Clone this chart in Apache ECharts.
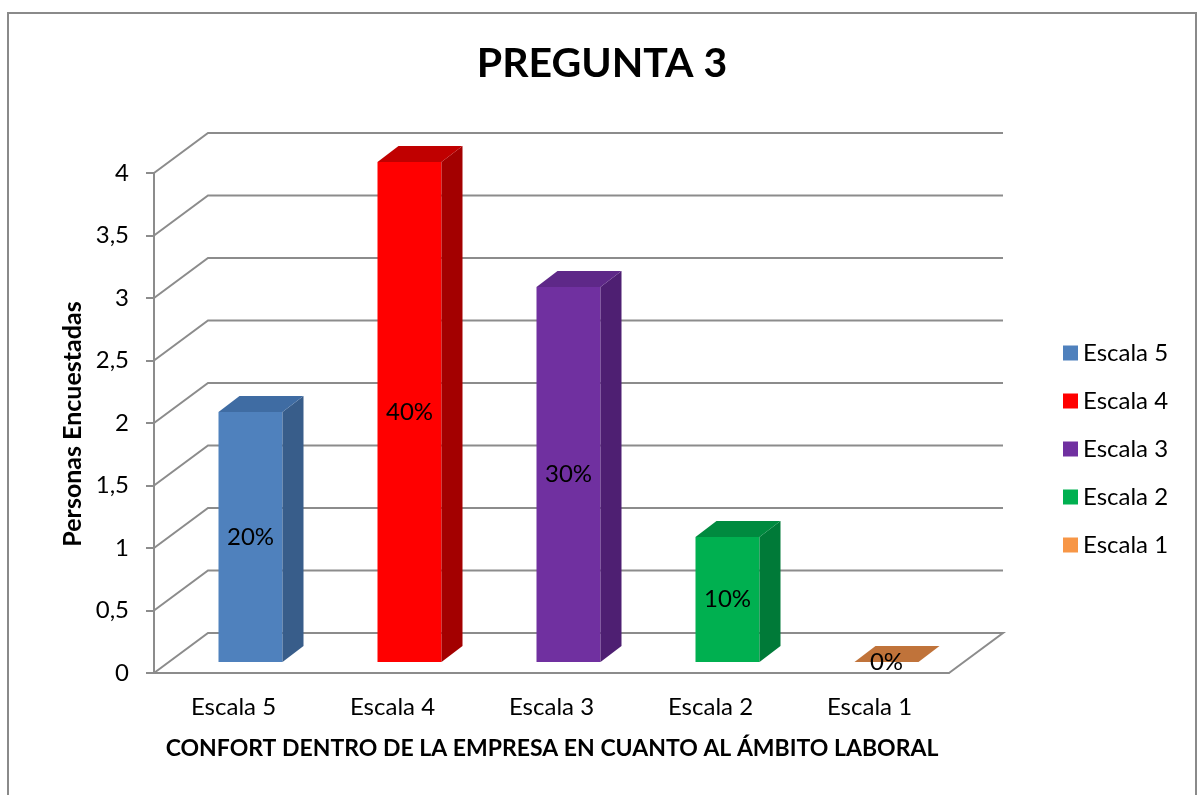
<!DOCTYPE html>
<html>
<head>
<meta charset="utf-8">
<script src="https://cdn.jsdelivr.net/npm/echarts@6/dist/echarts.min.js"></script>
<style>
html,body{margin:0;padding:0;background:#fff;}
#chart{width:1197px;height:795px;}
</style>
</head>
<body>
<div id="chart"></div>
<script>
const categories = ['Escala 5', 'Escala 4', 'Escala 3', 'Escala 2', 'Escala 1'];
const values = [2, 4, 3, 1, 0];
const percentLabels = ['20%', '40%', '30%', '10%', '0%'];
const yTicks = [0, 0.5, 1, 1.5, 2, 2.5, 3, 3.5, 4];
const legendColors = ['#4F81BD', '#FF0000', '#7030A0', '#00B050', '#F79646'];
const frontColors = ['#4F81BD', '#FF0000', '#7030A0', '#00B050', '#F79646'];
const sideColors = ['#385D8A', '#A30000', '#4E1F72', '#007A38', '#B0692F'];
const topColors = ['#3F6CA3', '#C00000', '#5E2888', '#008A3F', '#C0733A'];

const FONT = 'Lato';
const GRID_COLOR = '#8C8C8C';
const WALL_DX = 54, WALL_DY = -40;
const BAR_FX = 17, BAR_FY = -11;
const BAR_DX = 21, BAR_DY = -16;
const BAR_W = 64;

const chart = echarts.init(document.getElementById('chart'), null, {renderer: 'canvas'});

function wallItem(params, api) {
  const t = api.value(1);
  const p = api.coord([0, t]);
  const cs = params.coordSys;
  const x0 = cs.x, x1 = cs.x + cs.width, y = p[1];
  const pts = [[x0, y], [x0 + WALL_DX, y + WALL_DY], [x1 + WALL_DX, y + WALL_DY]];
  if (t === 0) pts.push([x1, y]);
  return {
    type: 'polyline',
    shape: {points: pts},
    style: {stroke: GRID_COLOR, lineWidth: 2, fill: null},
    silent: true
  };
}

function barItem(i) {
  return function (params, api) {
    const idx = api.value(0), v = api.value(1);
    const top = api.coord([idx, v]);
    const base = api.coord([idx, 0]);
    const cx = top[0] + BAR_FX;
    const yT = top[1] + BAR_FY, yB = base[1] + BAR_FY;
    const xl = cx - BAR_W / 2, xr = cx + BAR_W / 2;
    const children = [];
    if (yB - yT > 0.5) {
      children.push({type: 'rect', shape: {x: xl, y: yT, width: BAR_W, height: yB - yT}, style: {fill: frontColors[i]}});
      children.push({type: 'polygon', shape: {points: [[xr, yT], [xr + BAR_DX, yT + BAR_DY], [xr + BAR_DX, yB + BAR_DY], [xr, yB]]}, style: {fill: sideColors[i]}});
    }
    children.push({type: 'polygon', shape: {points: [[xl, yT], [xl + BAR_DX, yT + BAR_DY], [xr + BAR_DX, yT + BAR_DY], [xr, yT]]}, style: {fill: topColors[i]}});
    children.push({type: 'text', style: {text: percentLabels[i], x: cx, y: (yT + yB) / 2, align: 'center', verticalAlign: 'middle', font: '24px ' + FONT, fill: '#000'}});
    return {type: 'group', children: children};
  };
}

const series = [{
  type: 'custom',
  name: 'wall',
  silent: true,
  z: 1,
  data: yTicks.map(t => [0, t]),
  renderItem: wallItem
}];
categories.forEach((c, i) => {
  series.push({
    type: 'custom',
    name: c,
    z: 3,
    itemStyle: {color: legendColors[i]},
    data: [[i, values[i]]],
    renderItem: barItem(i)
  });
});

const option = {
  animation: false,
  backgroundColor: '#fff',
  textStyle: {fontFamily: FONT},
  grid: {left: 154, right: 248, top: 173, bottom: 122},
  xAxis: {
    type: 'category',
    data: categories,
    axisLine: {lineStyle: {color: GRID_COLOR, width: 2}},
    axisTick: {show: false},
    axisLabel: {color: '#000', fontSize: 24, fontFamily: FONT, margin: 22}
  },
  yAxis: {
    type: 'value',
    min: 0, max: 4, interval: 0.5,
    axisLine: {show: true, lineStyle: {color: GRID_COLOR, width: 2}},
    axisTick: {show: true, length: 8, lineStyle: {color: GRID_COLOR, width: 2}},
    splitLine: {show: false},
    axisLabel: {color: '#000', fontSize: 24, fontFamily: FONT, margin: 25,
      formatter: v => String(v).replace('.', ',')}
  },
  legend: {
    data: categories,
    orient: 'vertical',
    left: 1058,
    top: 336,
    icon: 'rect',
    itemWidth: 15,
    itemHeight: 15,
    itemGap: 24,
    textStyle: {color: '#000', fontSize: 24, fontFamily: FONT, lineHeight: 24}
  },
  graphic: [
    {type: 'rect', shape: {x: 8, y: 13, width: 1188, height: 800}, style: {fill: null, stroke: '#8A8A8A', lineWidth: 2}, z: 0, silent: true},
    {type: 'text', style: {text: 'PREGUNTA 3', x: 602, y: 64, align: 'center', verticalAlign: 'middle', font: 'bold 41px ' + FONT, fill: '#000'}},
    {type: 'text', rotation: Math.PI / 2, x: 73, y: 424, style: {text: 'Personas Encuestadas', x: 0, y: 0, align: 'center', verticalAlign: 'middle', font: 'bold 25px ' + FONT, fill: '#000'}},
    {type: 'text', style: {text: 'CONFORT DENTRO DE LA EMPRESA EN CUANTO AL ÁMBITO LABORAL', x: 552, y: 749, align: 'center', verticalAlign: 'middle', font: 'bold 23px ' + FONT, fill: '#000'}}
  ],
  series: series
};
chart.setOption(option);
</script>
</body>
</html>
